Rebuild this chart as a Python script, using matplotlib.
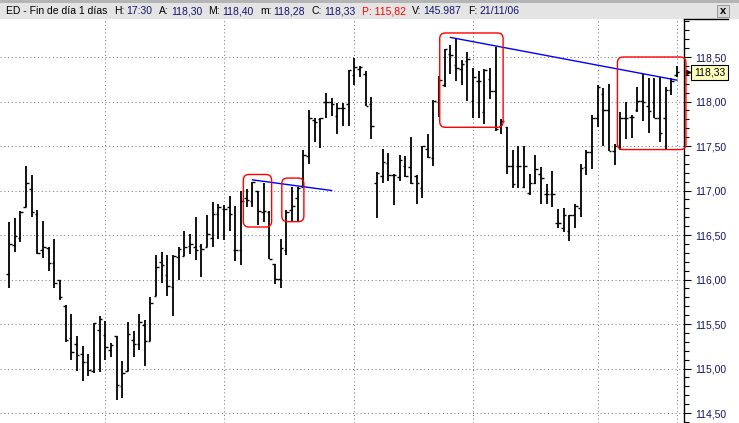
import matplotlib
matplotlib.use("Agg")
import matplotlib.pyplot as plt
import matplotlib.transforms as mtransforms
from matplotlib.patches import FancyBboxPatch, Rectangle
from matplotlib.lines import Line2D
from matplotlib.text import Annotation
from matplotlib.ticker import MultipleLocator, FuncFormatter

plt.rcParams['font.family'] = ['Liberation Sans', 'DejaVu Sans']

# daily OHLC bars
opens = [116.06, 116.39, 116.47, 116.81, 117.02, 116.74, 116.33, 116.35, 116.19, 115.99,
         115.70, 115.34, 115.28, 115.16, 115.07, 114.97, 115.43, 115.38, 115.21, 115.36,
         114.80, 114.97, 115.32, 115.28, 115.49, 115.31, 115.81, 116.20, 116.05, 115.92,
         116.25, 116.26, 116.38, 116.36, 116.38, 116.36, 116.47, 116.74, 116.79, 116.82,
         116.33, 116.33, 116.92, 116.88, 117.00, 116.76, 116.76, 116.18, 116.01, 116.33,
         116.78, 116.92, 117.04, 117.39, 117.79, 117.80, 117.99, 117.99, 117.84, 117.93,
         117.97, 118.30, 118.36, 118.31, 117.97, 117.09, 117.16, 117.31, 117.17, 117.15,
         117.28, 117.26, 117.16, 117.03, 117.47, 117.37, 118.00, 118.19, 118.53, 118.41,
         118.36, 118.46, 118.01, 118.23, 117.88, 118.25, 118.12, 117.73, 117.71, 117.28,
         117.28, 117.04, 116.97, 117.08, 117.18, 116.96, 116.96, 116.64, 116.58, 116.54,
         116.72, 116.80, 117.26, 117.43, 117.82, 118.08, 117.90, 117.44, 117.50, 117.81,
         117.83, 117.91, 118.01, 117.95, 118.00, 117.82, 117.81, 118.13, 118.30]
highs = [116.65, 116.69, 116.77, 117.27, 117.17, 116.78, 116.66, 116.36, 116.45, 116.00,
         115.71, 115.61, 115.37, 115.25, 115.16, 115.51, 115.59, 115.53, 115.29, 115.36,
         115.09, 115.52, 115.42, 115.61, 115.54, 115.80, 116.27, 116.31, 116.27, 116.27,
         116.36, 116.54, 116.51, 116.70, 116.40, 116.72, 116.87, 116.85, 116.84, 116.94,
         116.83, 117.00, 117.02, 117.10, 117.00, 117.09, 116.77, 116.18, 116.45, 116.78,
         117.04, 117.04, 117.45, 117.90, 117.82, 117.82, 118.10, 118.04, 117.98, 117.98,
         118.35, 118.49, 118.40, 118.34, 118.05, 117.21, 117.47, 117.42, 117.19, 117.40,
         117.39, 117.60, 117.17, 117.50, 117.63, 118.02, 118.29, 118.59, 118.64, 118.70,
         118.47, 118.56, 118.38, 118.34, 118.36, 118.38, 118.61, 117.80, 117.71, 117.46,
         117.50, 117.50, 117.18, 117.40, 117.26, 117.07, 117.22, 116.79, 116.80, 116.72,
         116.85, 117.30, 117.45, 117.85, 118.19, 118.15, 118.20, 117.52, 117.88, 118.00,
         117.85, 118.16, 118.31, 118.26, 118.26, 118.28, 118.16, 118.26, 118.40]
lows = [115.90, 116.31, 116.42, 116.81, 116.70, 116.29, 116.24, 116.10, 115.90, 115.77,
        115.30, 115.10, 114.97, 114.86, 114.92, 114.95, 114.96, 115.10, 115.13, 114.65,
        114.67, 114.97, 115.13, 115.21, 115.03, 115.31, 115.81, 115.96, 115.82, 115.59,
        116.00, 116.26, 116.29, 116.22, 116.03, 116.36, 116.37, 116.46, 116.44, 116.55,
        116.21, 116.16, 116.81, 116.81, 116.61, 116.65, 116.23, 115.95, 115.91, 116.27,
        116.65, 116.66, 117.04, 117.30, 117.54, 117.48, 117.82, 117.84, 117.63, 117.73,
        117.73, 118.18, 118.28, 117.95, 117.58, 116.69, 117.09, 117.11, 116.84, 117.11,
        117.15, 117.07, 116.85, 116.92, 117.36, 117.27, 117.83, 118.16, 118.31, 118.23,
        118.19, 118.01, 117.81, 117.82, 117.75, 118.03, 117.67, 117.63, 117.19, 117.03,
        117.03, 117.03, 116.95, 117.07, 116.85, 116.85, 116.81, 116.58, 116.53, 116.43,
        116.58, 116.70, 117.17, 117.24, 117.71, 117.50, 117.44, 117.29, 117.46, 117.58,
        117.59, 117.88, 117.78, 117.65, 117.82, 117.55, 117.46, 118.07, 118.28]
closes = [116.40, 116.49, 116.76, 117.09, 116.76, 116.30, 116.36, 116.19, 115.96, 115.80,
          115.32, 115.19, 115.15, 115.07, 114.98, 115.51, 115.56, 115.24, 115.26, 114.82,
          114.95, 115.39, 115.28, 115.52, 115.31, 115.74, 116.14, 116.16, 115.93, 116.26,
          116.34, 116.36, 116.40, 116.33, 116.34, 116.51, 116.74, 116.82, 116.79, 116.74,
          116.33, 116.88, 116.89, 117.10, 116.77, 116.77, 116.23, 116.01, 116.35, 116.76,
          116.83, 117.03, 117.40, 117.82, 117.77, 117.81, 117.99, 117.97, 117.93, 117.93,
          118.35, 118.39, 118.39, 117.95, 117.72, 117.20, 117.32, 117.17, 117.17, 117.34,
          117.16, 117.09, 117.09, 117.50, 117.38, 118.01, 118.24, 118.59, 118.52, 118.38,
          118.42, 118.48, 118.27, 118.23, 118.35, 118.12, 117.69, 117.78, 117.28, 117.07,
          117.28, 117.28, 117.08, 117.24, 117.14, 116.96, 116.96, 116.63, 116.72, 116.72,
          116.83, 117.25, 117.43, 117.82, 118.16, 117.90, 117.44, 117.50, 117.81, 117.81,
          117.83, 118.01, 118.00, 117.89, 117.82, 117.65, 118.13, 118.23, 118.33]
month_starts = [17, 38, 61, 82, 104, 118]

# trend lines: (bar, price) pairs
trend_1 = [(43, 117.12), (57, 117.00)]
trend_2 = [(78, 118.72), (118, 118.24)]
# highlighted zones: bar from, bar to, price low, price high
zones = [(41.4, 46.4, 116.59, 117.18), (48.2, 52.1, 116.65, 117.14),
         (76.1, 87.3, 117.71, 118.77), (107.5, 119.6, 117.46, 118.50)]

prev_close = 115.82
volume = "145.987"
last_time = "17:30"
last_date = "21/11/06"

navy = '#14146e'


def fmt(v):
    return f"{v:.2f}".replace('.', ',')


W, H = 739, 423
fig = plt.figure(figsize=(W / 100, H / 100), dpi=100)
fig.patch.set_facecolor('white')
ax = fig.add_axes([0, 0, 684 / W, 404 / H])
ax.set_xlim(-1.59, 119.26)
ax.set_ylim(114.388, 118.927)

x = list(range(len(opens)))
ax.vlines(x, lows, highs, color='black', lw=1.3, zorder=3)
ax.hlines(opens, [i - 0.45 for i in x], x, color='black', lw=1.0, zorder=3)
ax.hlines(closes, x, [i + 0.45 for i in x], color='black', lw=1.0, zorder=3)

for tl in (trend_1, trend_2):
    ax.plot([p[0] for p in tl], [p[1] for p in tl], color='#0000ff', lw=1.0, zorder=4)

aspect = (684 / 120.85) / (404 / (118.927 - 114.388))
for x0, x1, y0, y1 in zones:
    ax.add_patch(FancyBboxPatch((x0, y0), x1 - x0, y1 - y0,
                                boxstyle="round,pad=0,rounding_size=1.0",
                                mutation_aspect=aspect, fc='none', ec='#ff0000',
                                lw=1.0, zorder=5, clip_on=False))

# grid and axes
ax.set_xticks(month_starts)
ax.tick_params(axis='x', length=0, labelbottom=False)
ax.yaxis.set_major_locator(MultipleLocator(0.5))
ax.yaxis.set_minor_locator(MultipleLocator(0.1))
ax.yaxis.set_major_formatter(FuncFormatter(lambda v, p: fmt(v)))
ax.yaxis.tick_right()
ax.tick_params(axis='y', which='major', length=5, width=0.8, pad=3,
               labelsize=7.5, labelcolor=navy)
ax.tick_params(axis='y', which='minor', length=3.5, width=0.8)
ax.grid(True, which='major', color='#808080', lw=0.75, linestyle=(0, (1, 2.6)))
for s in ('top', 'left', 'bottom'):
    ax.spines[s].set_visible(False)
ax.spines['right'].set_linewidth(1.0)

# last price tag
blend = mtransforms.blended_transform_factory(ax.transAxes, ax.transData)
ax.text(1 + 10 / 684, closes[-1], fmt(closes[-1]), transform=blend, ha='left', va='center',
        fontsize=7.5, color='black',
        bbox=dict(boxstyle='square,pad=0.25', fc='#ffffc0', ec='black', lw=0.8))
ax.plot([1 + 4 / 684], [closes[-1]], marker='>', ms=3, color='black',
        transform=blend, clip_on=False)

# panel header
fig.add_artist(Rectangle((0, 1 - 19 / H), 1, 16 / H, transform=fig.transFigure,
                         fc='#e4e4e4', ec='none'))
fig.add_artist(Rectangle((0, 1 - 3 / H), 1, 3 / H, transform=fig.transFigure,
                         fc='#b4b4b4', ec='none'))
fig.add_artist(Line2D([684 / W, 728 / W], [1 - 19 / H] * 2, color='black', lw=1.0))
fig.add_artist(Rectangle((717 / W, 1 - 17 / H), 12 / W, 12 / H, transform=fig.transFigure,
                         fc='#d8d8d8', ec='#909090', lw=0.6))
fig.text(723 / W, 1 - 11 / H, 'x', ha='center', va='center', fontsize=8,
         fontweight='bold', color='black')

parts = [("ED - Fin de día 1 días", 'black'), ("H:", 'black'), (last_time, navy),
         ("A:", 'black'), (fmt(opens[-1]), navy), ("M:", 'black'), (fmt(highs[-1]), navy),
         ("m:", 'black'), (fmt(lows[-1]), navy), ("C:", 'black'), (fmt(closes[-1]), navy),
         ("P: " + fmt(prev_close), '#ff0000'), ("V:", 'black'), (volume, navy),
         ("F:", 'black'), (last_date, navy)]
t = fig.text(6 / W, 1 - 11 / H, parts[0][0], color=parts[0][1], ha='left', va='center',
             fontsize=7.5, zorder=5)
prev = parts[0][0]
for s, c in parts[1:]:
    gap = 1.6 if prev.endswith(':') else 4.6
    a = Annotation(s, xy=(1, 0.5), xycoords=t, xytext=(gap, 0), textcoords='offset points',
                   ha='left', va='center', color=c, fontsize=7.5, annotation_clip=False)
    a.set_transform(mtransforms.IdentityTransform())
    a.set_zorder(5)
    fig.add_artist(a)
    t = a
    prev = s

fig.savefig('out.png', dpi=100)
